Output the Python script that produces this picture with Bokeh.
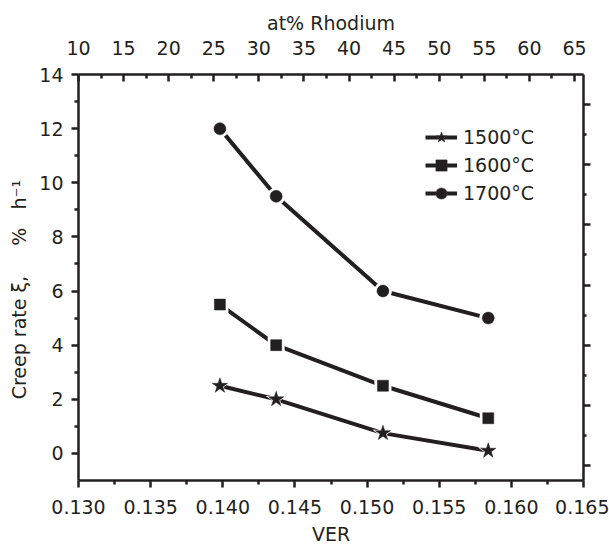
from bokeh.plotting import figure
from bokeh.models import (LinearAxis, Range1d, FixedTicker, Legend, LegendItem,
                          PrintfTickFormatter, CustomJSTickFormatter)
from bokeh.embed import file_html
from bokeh.resources import INLINE

# ---- data ----
ver = [0.1398, 0.1437, 0.1511, 0.1584]
rate_1500 = [2.5, 2.0, 0.75, 0.1]
rate_1600 = [5.5, 4.0, 2.5, 1.3]
rate_1700 = [12.0, 9.5, 6.0, 5.0]
series_labels = ["1500°C", "1600°C", "1700°C"]
series_markers = ["star", "square", "circle"]

x_ticks = [0.130, 0.135, 0.140, 0.145, 0.150, 0.155, 0.160, 0.165]
x_minor = [0.1325, 0.1375, 0.1425, 0.1475, 0.1525, 0.1575, 0.1625]
y_ticks = [0, 2, 4, 6, 8, 10, 12, 14]
y_minor = [1, 3, 5, 7, 9, 11, 13]
rh_ticks = [10, 15, 20, 25, 30, 35, 40, 45, 50, 55, 60, 65]
rh_minor = [12.5, 17.5, 22.5, 27.5, 32.5, 37.5, 42.5, 47.5, 52.5, 57.5, 62.5]
r_ticks = [0, 2, 4, 6, 8, 10, 12]
r_minor = [1, 3, 5, 7, 9, 11]

NB = "\u00a0"
y_label = "Creep rate ξ," + NB * 5 + "%" + NB * 3 + "h⁻¹" + NB * 4

INK = "#231f20"
FONT = "DejaVu Sans"
FS = "19px"

p = figure(frame_width=505, frame_height=406, output_backend="svg", toolbar_location=None,
           x_range=Range1d(0.130, 0.165), y_range=Range1d(-1, 14),
           x_axis_location=None, y_axis_location=None,
           min_border_left=78, min_border_right=26, min_border_top=74,
           min_border_bottom=69)
p.outline_line_color = None
p.xgrid.visible = False
p.ygrid.visible = False
p.background_fill_color = "white"
p.border_fill_color = "white"

p.extra_x_ranges = {"rh": Range1d(10, 66)}
p.extra_y_ranges = {"r": Range1d(-0.5, 13.0)}


def style(ax):
    ax.axis_line_color = INK
    ax.axis_line_width = 2.5
    ax.major_tick_line_color = INK
    ax.minor_tick_line_color = INK
    ax.major_tick_line_width = 2.5
    ax.minor_tick_line_width = 2.5
    ax.major_label_text_font = FONT
    ax.major_label_text_font_size = FS
    ax.major_label_text_color = INK
    ax.axis_label_text_font = FONT
    ax.axis_label_text_font_size = FS
    ax.axis_label_text_font_style = "normal"
    ax.axis_label_text_color = INK


xb = LinearAxis(axis_label="VER", ticker=FixedTicker(ticks=x_ticks, minor_ticks=x_minor),
                formatter=PrintfTickFormatter(format="%.3f"))
style(xb)
xb.major_tick_out = 7
xb.major_tick_in = 0
xb.minor_tick_out = 4
xb.minor_tick_in = 0
xb.major_label_standoff = 12
xb.axis_label_standoff = 6
p.add_layout(xb, "below")

xt = LinearAxis(x_range_name="rh", axis_label="at% Rhodium",
                ticker=FixedTicker(ticks=rh_ticks, minor_ticks=rh_minor))
style(xt)
xt.major_tick_out = 0
xt.major_tick_in = 7
xt.minor_tick_out = 0
xt.minor_tick_in = 4
xt.major_label_standoff = 20
xt.axis_label_standoff = 4
p.add_layout(xt, "above")

yl = LinearAxis(axis_label=y_label,
                ticker=FixedTicker(ticks=y_ticks, minor_ticks=y_minor))
style(yl)
yl.major_tick_out = 7
yl.major_tick_in = 0
yl.minor_tick_out = 4
yl.minor_tick_in = 0
yl.major_label_standoff = 8
yl.axis_label_standoff = 6
p.add_layout(yl, "left")

yr = LinearAxis(y_range_name="r", ticker=FixedTicker(ticks=r_ticks, minor_ticks=r_minor),
                formatter=CustomJSTickFormatter(code="return ''"))
style(yr)
yr.major_tick_out = 7
yr.major_tick_in = 0
yr.minor_tick_out = 3
yr.minor_tick_in = 0
yr.major_label_standoff = 0
p.add_layout(yr, "right")

items = []
for ys, lab, mk in zip([rate_1500, rate_1600, rate_1700], series_labels, series_markers):
    ln = p.line(ver, ys, line_color=INK, line_width=4)
    big = {"star": 16, "square": 11, "circle": 12}[mk]
    halo = p.scatter(ver, ys, marker=mk, size=big + 6, fill_color="white",
                     line_color="white", line_width=0)
    dot = p.scatter(ver, ys, marker=mk, size=big, fill_color=INK, line_color=INK,
                    line_width=0.5)
    items.append(LegendItem(label=lab, renderers=[ln, halo, dot]))

legend = Legend(items=items, location=(347, 273), orientation="vertical")
legend.glyph_width = 32
legend.glyph_height = 28
legend.label_height = 28
legend.spacing = 0
legend.padding = 0
legend.margin = 0
legend.label_standoff = 6
legend.label_text_font = FONT
legend.label_text_font_size = FS
legend.label_text_color = INK
legend.border_line_color = None
legend.background_fill_alpha = 0
p.add_layout(legend, "center")

open("out.html", "w").write(file_html(p, INLINE))
